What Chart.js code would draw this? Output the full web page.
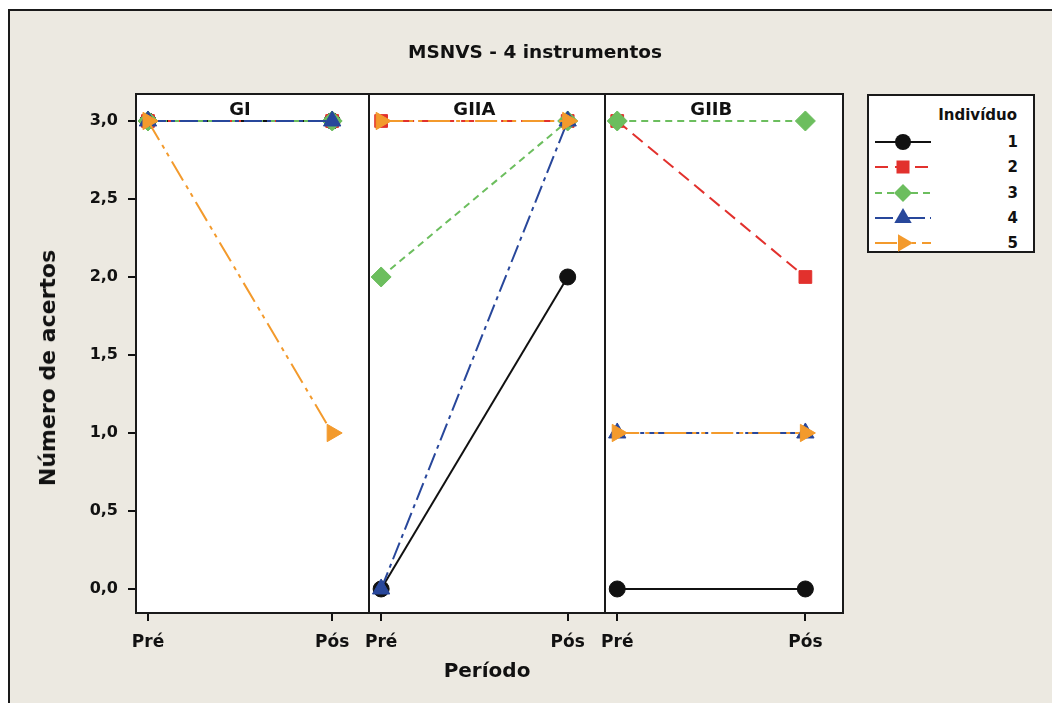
<!DOCTYPE html>
<html>
<head>
<meta charset="utf-8">
<script src="https://cdn.jsdelivr.net/npm/chart.js@4.4.0/dist/chart.umd.min.js"></script>
<style>
  html, body { margin: 0; padding: 0; background: #fff; overflow: hidden; width: 1052px; height: 703px; }
  #moldura { position: absolute; left: 8px; top: 9px; width: 1100px; height: 760px; background: #ECE9E1; border: 2px solid #1a1a1a; }
  canvas { position: absolute; left: 0; top: 0; }
  #titulo { position: absolute; left: 0; top: 41px; width: 1070px; line-height: 22px; text-align: center;
            font: bold 18.5px "DejaVu Sans", sans-serif; color: #111; }
  #tituloY { position: absolute; left: 48px; top: 368px; transform: translate(-50%, -50%) rotate(-90deg);
             white-space: nowrap; font: bold 22px "DejaVu Sans", sans-serif; color: #111; line-height: 26px; }
  #legenda { position: absolute; left: 867px; top: 94px; width: 168px; height: 159px; box-sizing: border-box;
             background: #fff; border: 2px solid #1a1a1a; font: bold 15px "DejaVu Sans", sans-serif; color: #111; }
  #legenda .tit { position: absolute; right: 16px; top: 9px; line-height: 20px; }
  #legenda .linha { position: absolute; left: 6px; right: 15px; height: 20px; }
  #legenda .linha svg { position: absolute; left: 0; top: 0; }
  #legenda .linha span { position: absolute; right: 0; top: 0; line-height: 20px; }
</style>
</head>
<body>
<div id="moldura"></div>
<canvas id="c0" width="1052" height="703"></canvas>
<canvas id="c1" width="1052" height="703"></canvas>
<canvas id="c2" width="1052" height="703"></canvas>
<div id="titulo">MSNVS - 4 instrumentos</div>
<div id="tituloY">Número de acertos</div>
<div id="legenda"><div class="tit">Indivíduo</div></div>
<script>
// Dados
const periodos = ['Pré', 'Pós'];
const grupos = ['GI', 'GIIA', 'GIIB'];
const individuos = ['1', '2', '3', '4', '5'];
const yTicks = [0, 0.5, 1, 1.5, 2, 2.5, 3];

// Número de acertos de cada indivíduo (1..5)
const giPre = [3, 3, 3, 3, 3];
const giPos = [3, 3, 3, 3, 1];
const giiaPre = [0, 3, 2, 0, 3];
const giiaPos = [2, 3, 3, 3, 3];
const giibPre = [0, 3, 3, 1, 1];
const giibPos = [0, 2, 3, 1, 1];

// Estilos das séries
const cores = ['#111111', '#E2312D', '#6CBE5E', '#28479B', '#F39A2C'];
const tracos = [[], [13, 7], [7, 5], [18, 5, 4, 5], [22, 6, 4, 5, 4, 6]];
const simbolos = ['circle', 'rect', 'rectRot', 'triangle', 'triangle'];
const raios = [8, 9, 10, 10, 10];
const rotacoes = [0, 0, 0, 0, 90];

// Posição dos painéis na página
const LARGURA = 1052;
const paineis = [
    { left: 136, right: 369, pre: giPre, pos: giPos },
    { left: 369, right: 605, pre: giiaPre, pos: giiaPos },
    { left: 605, right: 843, pre: giibPre, pos: giibPos }
];

const FONTE = '"DejaVu Sans", sans-serif';
Chart.defaults.font.family = FONTE;
Chart.defaults.color = '#111';

// fundo branco, rótulo do grupo e moldura de cada painel
const painelPlugin = {
    id: 'painel',
    beforeDraw(chart) {
        const { ctx, chartArea: a } = chart;
        ctx.save();
        ctx.fillStyle = '#fff';
        ctx.fillRect(a.left, a.top, a.right - a.left, a.bottom - a.top);
        ctx.restore();
    },
    beforeDatasetsDraw(chart, args, opts) {
        const { ctx, chartArea: a } = chart;
        ctx.save();
        ctx.fillStyle = '#111';
        ctx.font = 'bold 18px ' + FONTE;
        ctx.textAlign = 'center';
        ctx.textBaseline = 'middle';
        ctx.fillText(opts.texto, chart.scales.x.getPixelForValue(0.5), a.top + 16);
        ctx.restore();
    },
    afterDraw(chart) {
        const { ctx, chartArea: a } = chart;
        ctx.save();
        ctx.strokeStyle = '#1a1a1a';
        ctx.lineWidth = 2;
        ctx.strokeRect(a.left, a.top, a.right - a.left, a.bottom - a.top);
        ctx.restore();
    }
};

function criarPainel(idx) {
    const p = paineis[idx];
    const datasets = individuos.map((nome, i) => ({
        label: nome,
        data: periodos.map((per, j) => ({ x: j, y: (j === 0 ? p.pre : p.pos)[i] })),
        borderColor: cores[i],
        backgroundColor: cores[i],
        borderWidth: 2,
        borderDash: tracos[i],
        pointStyle: simbolos[i],
        pointRadius: raios[i],
        pointRotation: rotacoes[i],
        pointBorderWidth: 1,
        pointBackgroundColor: cores[i],
        pointBorderColor: cores[i],
        order: individuos.length - i,
        clip: false,
        tension: 0
    }));

    return new Chart(document.getElementById('c' + idx), {
        type: 'line',
        data: { datasets: datasets },
        options: {
            responsive: false,
            animation: false,
            events: [],
            layout: { padding: { left: idx === 0 ? 0 : p.left, right: LARGURA - p.right, top: 94, bottom: 0 } },
            plugins: {
                legend: { display: false },
                tooltip: { enabled: false },
                painel: { texto: grupos[idx] }
            },
            scales: {
                x: {
                    type: 'linear',
                    min: -0.065,
                    max: 1.2,
                    afterBuildTicks: s => { s.ticks = periodos.map((per, j) => ({ value: j })); },
                    afterFit: s => { s.height = 90; },
                    ticks: {
                        callback: v => periodos[v],
                        font: { size: 17, weight: 'bold' },
                        padding: 11,
                        maxRotation: 0,
                        autoSkip: false
                    },
                    grid: { drawOnChartArea: false, tickLength: 8, color: '#111', lineWidth: 2 },
                    border: { display: false },
                    title: {
                        display: idx === 1,
                        text: 'Período',
                        font: { size: 20, weight: 'bold' },
                        padding: { top: 0, bottom: 19 }
                    }
                },
                y: {
                    display: idx === 0,
                    min: -0.154,
                    max: 3.173,
                    afterBuildTicks: s => { s.ticks = yTicks.map(v => ({ value: v })); },
                    afterFit: s => { if (idx === 0) s.width = 136; },
                    ticks: {
                        callback: v => v.toFixed(1).replace('.', ','),
                        font: { size: 16, weight: 'bold' },
                        padding: 10
                    },
                    grid: { drawOnChartArea: false, tickLength: 8, color: '#111', lineWidth: 2 },
                    border: { display: false }
                }
            }
        },
        plugins: [painelPlugin]
    });
}

paineis.forEach((p, idx) => criarPainel(idx));

// Legenda
function amostra(i) {
    const cx = 28, cy = 10, cor = cores[i];
    let marca = '';
    if (simbolos[i] === 'circle') {
        marca = `<circle cx="${cx}" cy="${cy}" r="8" fill="${cor}"/>`;
    } else if (simbolos[i] === 'rect') {
        marca = `<rect x="${cx - 6.5}" y="${cy - 6.5}" width="13" height="13" fill="${cor}"/>`;
    } else if (simbolos[i] === 'rectRot') {
        marca = `<polygon points="${cx},${cy - 9} ${cx + 9},${cy} ${cx},${cy + 9} ${cx - 9},${cy}" fill="${cor}"/>`;
    } else if (rotacoes[i] === 0) {
        marca = `<polygon points="${cx},${cy - 10} ${cx + 8.7},${cy + 5} ${cx - 8.7},${cy + 5}" fill="${cor}"/>`;
    } else {
        marca = `<polygon points="${cx + 10},${cy} ${cx - 5},${cy + 8.7} ${cx - 5},${cy - 8.7}" fill="${cor}"/>`;
    }
    const dash = tracos[i].length ? `stroke-dasharray="${tracos[i].join(' ')}"` : '';
    return `<svg width="58" height="20"><line x1="0" y1="${cy}" x2="56" y2="${cy}" stroke="${cor}" stroke-width="2" ${dash}/>${marca}</svg>`;
}

const legenda = document.getElementById('legenda');
individuos.forEach((nome, i) => {
    const linha = document.createElement('div');
    linha.className = 'linha';
    linha.style.top = (36 + i * 25.3) + 'px';
    linha.innerHTML = amostra(i) + `<span>${nome}</span>`;
    legenda.appendChild(linha);
});
</script>
</body>
</html>
